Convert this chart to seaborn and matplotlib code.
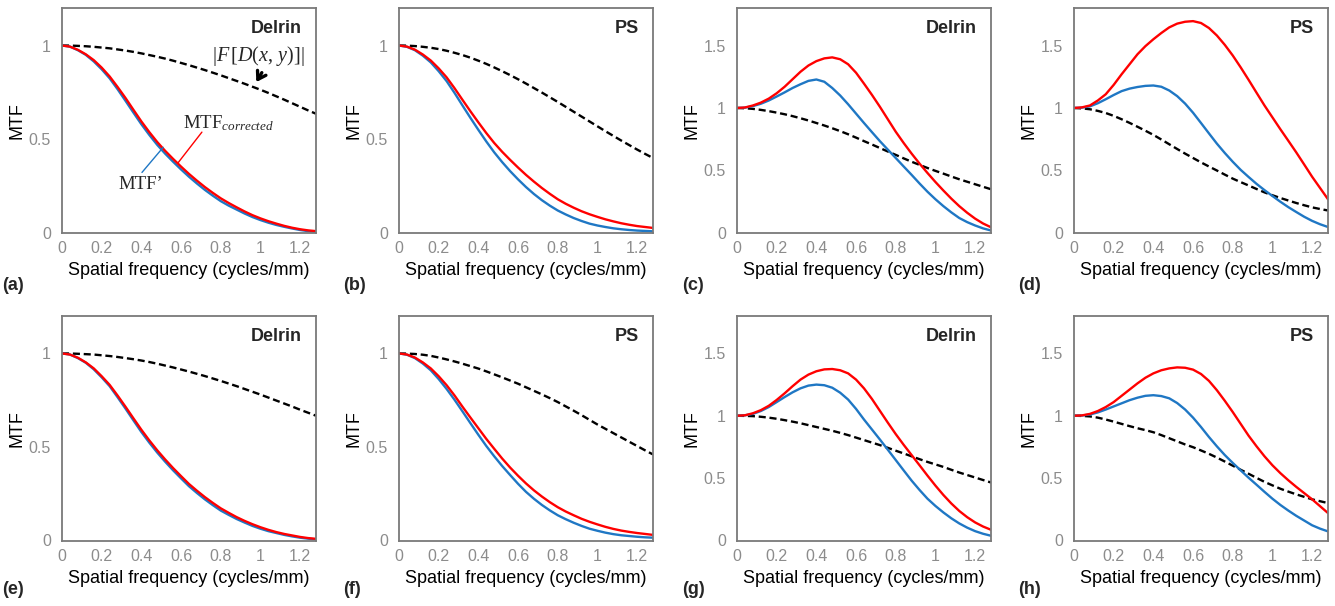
import numpy as np
import pandas as pd
import matplotlib
matplotlib.use("Agg")
import matplotlib.pyplot as plt
import seaborn as sns

# ---------------- data ----------------
freq = [0.00, 0.04, 0.08, 0.12, 0.16, 0.20, 0.24, 0.28, 0.32, 0.36, 0.40,
        0.44, 0.48, 0.52, 0.56, 0.60, 0.64, 0.68, 0.72, 0.76, 0.80,
        0.84, 0.88, 0.92, 0.96, 1.00, 1.04, 1.08, 1.12, 1.16, 1.20,
        1.24, 1.28]

a_blue = [1.0, 0.994, 0.975, 0.95, 0.915, 0.873, 0.825, 0.767, 0.705, 0.642, 0.58,
          0.523, 0.47, 0.423, 0.38, 0.339, 0.30, 0.264, 0.23, 0.199, 0.17,
          0.146, 0.125, 0.104, 0.085, 0.069, 0.055, 0.043, 0.033, 0.024, 0.016,
          0.010, 0.006]
a_red = [1.0, 0.994, 0.977, 0.953, 0.922, 0.882, 0.835, 0.779, 0.72, 0.657, 0.595,
         0.538, 0.485, 0.438, 0.395, 0.354, 0.315, 0.279, 0.245, 0.214, 0.185,
         0.16, 0.137, 0.115, 0.095, 0.078, 0.063, 0.05, 0.038, 0.028, 0.02,
         0.014, 0.01]
a_dash = [1.0, 0.9996, 0.998, 0.996, 0.993, 0.989, 0.985, 0.979, 0.973, 0.966, 0.958,
          0.949, 0.940, 0.930, 0.919, 0.907, 0.895, 0.882, 0.869, 0.855, 0.841,
          0.826, 0.811, 0.796, 0.780, 0.764, 0.747, 0.729, 0.711, 0.692, 0.673,
          0.654, 0.636]

b_blue = [1.0, 0.993, 0.975, 0.946, 0.91, 0.863, 0.81, 0.747, 0.68, 0.614, 0.55,
          0.488, 0.43, 0.378, 0.33, 0.286, 0.245, 0.208, 0.175, 0.146, 0.12,
          0.099, 0.08, 0.064, 0.05, 0.04, 0.032, 0.025, 0.02, 0.016, 0.013,
          0.011, 0.009]
b_red = [1.0, 0.994, 0.978, 0.952, 0.92, 0.878, 0.83, 0.772, 0.71, 0.649, 0.59,
         0.533, 0.48, 0.433, 0.39, 0.349, 0.31, 0.274, 0.24, 0.209, 0.18,
         0.156, 0.135, 0.116, 0.10, 0.086, 0.073, 0.062, 0.052, 0.044, 0.037,
         0.032, 0.027]
b_dash = [1.0, 0.9993, 0.997, 0.993, 0.988, 0.981, 0.972, 0.961, 0.949, 0.935, 0.919,
          0.902, 0.883, 0.863, 0.842, 0.82, 0.797, 0.773, 0.749, 0.724, 0.699,
          0.673, 0.647, 0.621, 0.595, 0.569, 0.543, 0.518, 0.493, 0.469, 0.445,
          0.422, 0.40]

c_blue = [1.0, 1.003, 1.015, 1.034, 1.06, 1.092, 1.125, 1.16, 1.19, 1.217, 1.228,
          1.21, 1.16, 1.10, 1.03, 0.955, 0.88, 0.807, 0.735, 0.667, 0.60,
          0.532, 0.465, 0.396, 0.33, 0.27, 0.215, 0.165, 0.12, 0.087, 0.06,
          0.037, 0.02]
c_red = [1.0, 1.004, 1.02, 1.043, 1.075, 1.118, 1.17, 1.23, 1.29, 1.34, 1.375,
         1.397, 1.405, 1.39, 1.35, 1.282, 1.195, 1.105, 1.01, 0.91, 0.81,
         0.72, 0.635, 0.555, 0.48, 0.408, 0.34, 0.275, 0.215, 0.162, 0.115,
         0.076, 0.046]
c_dash = [1.0, 0.998, 0.993, 0.985, 0.975, 0.963, 0.95, 0.935, 0.918, 0.90, 0.88,
          0.86, 0.838, 0.815, 0.79, 0.763, 0.735, 0.708, 0.68, 0.652, 0.625,
          0.597, 0.57, 0.545, 0.52, 0.497, 0.475, 0.452, 0.43, 0.41, 0.39,
          0.37, 0.35]

d_blue = [1.0, 1.003, 1.013, 1.038, 1.07, 1.104, 1.135, 1.155, 1.168, 1.177, 1.18,
          1.17, 1.14, 1.095, 1.035, 0.962, 0.88, 0.797, 0.715, 0.64, 0.57,
          0.505, 0.448, 0.393, 0.343, 0.296, 0.25, 0.207, 0.168, 0.13, 0.097,
          0.07, 0.048]
d_red = [1.0, 1.005, 1.02, 1.06, 1.11, 1.185, 1.27, 1.35, 1.43, 1.495, 1.55,
         1.60, 1.645, 1.675, 1.69, 1.695, 1.68, 1.64, 1.58, 1.505, 1.42,
         1.325, 1.225, 1.122, 1.02, 0.925, 0.83, 0.738, 0.645, 0.548, 0.45,
         0.36, 0.27]
d_dash = [1.0, 0.997, 0.99, 0.977, 0.96, 0.937, 0.91, 0.881, 0.85, 0.818, 0.785,
          0.748, 0.71, 0.672, 0.635, 0.60, 0.565, 0.532, 0.50, 0.467, 0.435,
          0.407, 0.38, 0.352, 0.325, 0.302, 0.28, 0.26, 0.24, 0.222, 0.205,
          0.192, 0.18]

e_blue = [1.0, 0.994, 0.975, 0.95, 0.915, 0.872, 0.825, 0.766, 0.705, 0.642, 0.58,
          0.523, 0.47, 0.421, 0.375, 0.332, 0.29, 0.254, 0.22, 0.189, 0.16,
          0.137, 0.115, 0.096, 0.078, 0.063, 0.05, 0.04, 0.03, 0.022, 0.015,
          0.01, 0.006]
e_red = [1.0, 0.994, 0.977, 0.952, 0.92, 0.878, 0.832, 0.775, 0.715, 0.653, 0.592,
         0.535, 0.482, 0.433, 0.387, 0.344, 0.302, 0.266, 0.232, 0.201, 0.172,
         0.148, 0.125, 0.105, 0.087, 0.071, 0.057, 0.045, 0.035, 0.027, 0.019,
         0.013, 0.009]
e_dash = [1.0, 0.9996, 0.998, 0.996, 0.994, 0.99, 0.986, 0.981, 0.975, 0.969, 0.962,
          0.954, 0.945, 0.935, 0.925, 0.914, 0.903, 0.891, 0.879, 0.866, 0.853,
          0.839, 0.825, 0.81, 0.795, 0.78, 0.764, 0.748, 0.732, 0.716, 0.699,
          0.683, 0.667]

f_blue = [1.0, 0.993, 0.975, 0.946, 0.91, 0.863, 0.81, 0.752, 0.69, 0.627, 0.565,
          0.505, 0.45, 0.398, 0.35, 0.303, 0.26, 0.223, 0.19, 0.161, 0.135,
          0.114, 0.095, 0.078, 0.063, 0.052, 0.042, 0.034, 0.028, 0.024, 0.02,
          0.017, 0.015]
f_red = [1.0, 0.994, 0.978, 0.952, 0.92, 0.878, 0.83, 0.775, 0.715, 0.657, 0.60,
         0.543, 0.49, 0.438, 0.39, 0.346, 0.305, 0.268, 0.235, 0.205, 0.178,
         0.155, 0.135, 0.116, 0.10, 0.086, 0.073, 0.062, 0.053, 0.046, 0.04,
         0.035, 0.03]
f_dash = [1.0, 0.999, 0.997, 0.993, 0.987, 0.978, 0.968, 0.957, 0.945, 0.932, 0.919,
          0.904, 0.888, 0.872, 0.855, 0.838, 0.819, 0.80, 0.781, 0.761, 0.74,
          0.717, 0.694, 0.67, 0.645, 0.62, 0.597, 0.574, 0.551, 0.528, 0.505,
          0.482, 0.46]

g_blue = [1.0, 1.004, 1.015, 1.038, 1.07, 1.11, 1.15, 1.188, 1.22, 1.242, 1.25,
          1.245, 1.225, 1.185, 1.13, 1.055, 0.97, 0.89, 0.81, 0.728, 0.645,
          0.562, 0.48, 0.405, 0.335, 0.277, 0.225, 0.178, 0.137, 0.103, 0.075,
          0.054, 0.038]
g_red = [1.0, 1.004, 1.02, 1.045, 1.08, 1.127, 1.18, 1.237, 1.29, 1.33, 1.357,
         1.372, 1.375, 1.365, 1.34, 1.29, 1.22, 1.135, 1.04, 0.945, 0.853,
         0.767, 0.685, 0.603, 0.52, 0.44, 0.365, 0.297, 0.237, 0.187, 0.145,
         0.112, 0.086]
g_dash = [1.0, 0.999, 0.997, 0.992, 0.985, 0.976, 0.965, 0.953, 0.94, 0.925, 0.91,
          0.895, 0.88, 0.863, 0.845, 0.825, 0.805, 0.785, 0.765, 0.743, 0.72,
          0.698, 0.675, 0.652, 0.63, 0.61, 0.59, 0.567, 0.545, 0.525, 0.505,
          0.485, 0.465]

h_blue = [1.0, 1.002, 1.01, 1.027, 1.05, 1.075, 1.10, 1.125, 1.145, 1.16, 1.165,
          1.158, 1.14, 1.102, 1.05, 0.985, 0.91, 0.83, 0.755, 0.685, 0.622,
          0.562, 0.503, 0.447, 0.39, 0.335, 0.285, 0.24, 0.198, 0.16, 0.122,
          0.095, 0.073]
h_red = [1.0, 1.003, 1.015, 1.038, 1.07, 1.11, 1.16, 1.21, 1.26, 1.305, 1.34,
         1.365, 1.38, 1.388, 1.385, 1.37, 1.335, 1.28, 1.205, 1.12, 1.03,
         0.935, 0.84, 0.755, 0.675, 0.603, 0.54, 0.483, 0.43, 0.38, 0.33,
         0.275, 0.22]
h_dash = [1.0, 0.999, 0.995, 0.985, 0.97, 0.953, 0.935, 0.917, 0.90, 0.885, 0.868,
          0.845, 0.82, 0.795, 0.77, 0.748, 0.722, 0.695, 0.665, 0.633, 0.60,
          0.567, 0.535, 0.502, 0.47, 0.442, 0.415, 0.392, 0.37, 0.35, 0.33,
          0.315, 0.30]

materials = ["Delrin", "PS", "Delrin", "PS", "Delrin", "PS", "Delrin", "PS"]
letters = ["(a)", "(b)", "(c)", "(d)", "(e)", "(f)", "(g)", "(h)"]
xticks = [0, 0.2, 0.4, 0.6, 0.8, 1.0, 1.2]
xtick_labels = ["0", "0.2", "0.4", "0.6", "0.8", "1", "1.2"]
yticks_low = [0, 0.5, 1]
yticks_high = [0, 0.5, 1, 1.5]
ytick_labels_low = ["0", "0.5", "1"]
ytick_labels_high = ["0", "0.5", "1", "1.5"]

panel_series = [
    (a_blue, a_red, a_dash), (b_blue, b_red, b_dash),
    (c_blue, c_red, c_dash), (d_blue, d_red, d_dash),
    (e_blue, e_red, e_dash), (f_blue, f_red, f_dash),
    (g_blue, g_red, g_dash), (h_blue, h_red, h_dash),
]

# ---------------- style ----------------
sns.set_style("white")
plt.rcParams["font.family"] = ["Liberation Sans", "DejaVu Sans"]
plt.rcParams["mathtext.fontset"] = "custom"
plt.rcParams["mathtext.rm"] = "Liberation Serif"
plt.rcParams["mathtext.it"] = "Liberation Serif:italic"

W, H = 1335, 606
fig = plt.figure(figsize=(W / 100, H / 100), dpi=100)

BLUE = "#1f77c4"
RED = "#ff0000"
SPINE = "#7a7a7a"
TICKC = "#8c8c8c"

col_left = [62, 399, 737, 1074]
ax_w = 254
rows = [(8, 233), (316, 540.5)]

for i in range(8):
    r, c = divmod(i, 4)
    top, bot = rows[r]
    ax = fig.add_axes([col_left[c] / W, 1 - bot / H, ax_w / W, (bot - top) / H])
    blue, red, dash = panel_series[i]
    n = len(freq)
    df = pd.DataFrame({
        "freq": freq * 3,
        "MTF": list(blue) + list(red) + list(dash),
        "curve": ["blue"] * n + ["red"] * n + ["dash"] * n,
    })
    sns.lineplot(data=df[df.curve == "dash"], x="freq", y="MTF", ax=ax,
                 color="black", lw=1.7, linestyle=(0, (3, 1.6)), legend=False)
    sns.lineplot(data=df[df.curve == "blue"], x="freq", y="MTF", ax=ax,
                 color=BLUE, lw=1.7, legend=False)
    sns.lineplot(data=df[df.curve == "red"], x="freq", y="MTF", ax=ax,
                 color=RED, lw=1.7, legend=False)

    high = c >= 2
    ax.set_xlim(0, 1.28)
    ax.set_ylim(0, 1.8 if high else 1.2)
    ax.set_xticks(xticks)
    ax.set_xticklabels(xtick_labels)
    ax.set_yticks(yticks_high if high else yticks_low)
    ax.set_yticklabels(ytick_labels_high if high else ytick_labels_low)
    ax.tick_params(axis="both", length=0, labelsize=11.5, labelcolor=TICKC)
    ax.tick_params(axis="x", pad=6)
    ax.tick_params(axis="y", pad=8)
    for s in ax.spines.values():
        s.set_color(SPINE)
        s.set_linewidth(1.3)
    ax.set_xlabel("Spatial frequency (cycles/mm)", fontsize=13, color="black")
    ax.set_ylabel("MTF", fontsize=13, color="black")
    ax.xaxis.set_label_coords(0.5, -0.13)
    ax.yaxis.set_label_coords(-0.145, 0.5)
    ax.text(0.945, 0.91, materials[i], transform=ax.transAxes, ha="right",
            va="center", fontsize=13, fontweight="bold")

    # panel letters
    lx = [2, 343, 682, 1018][c]
    ly = [285, 590][r]
    fig.text(lx / W, 1 - ly / H, letters[i], ha="left", va="center",
             fontsize=13, fontweight="bold")

    if i == 0:
        ax.text(0.99, 0.942, r"$|F\,[D(x,\,y)]|$", ha="center", va="center",
                fontsize=14.5)
        ax.annotate("", xy=(0.972, 0.792), xytext=(1.014, 0.868),
                    arrowprops=dict(arrowstyle="->,head_length=0.55,head_width=0.35",
                                    lw=2.4, color="black"))
        ax.text(0.611, 0.585, r"$\mathrm{MTF}_{corrected}$", ha="left",
                va="center", fontsize=13.5)
        ax.plot([0.705, 0.586], [0.538, 0.376], color=RED, lw=1.0)
        ax.text(0.284, 0.258, "MTF\u2019", ha="left", va="center", fontsize=13.5,
                family="Liberation Serif")
        ax.plot([0.403, 0.51], [0.323, 0.457], color=BLUE, lw=1.0)

fig.savefig("out.png", dpi=100)
